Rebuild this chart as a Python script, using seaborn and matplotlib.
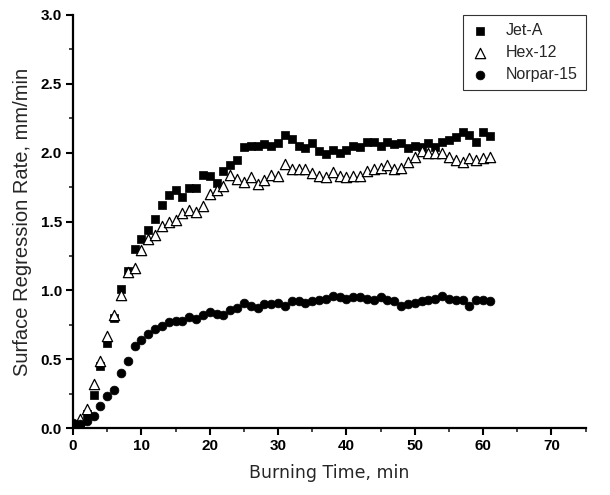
import numpy as np
import pandas as pd
import seaborn as sns
import matplotlib
matplotlib.use('Agg')
import matplotlib.pyplot as plt
from matplotlib.ticker import MultipleLocator

# tempo de queima (min)
tempo = list(range(0, 62))

jet_a = [0.02, 0.03, 0.10, 0.24, 0.45, 0.62, 0.80, 1.01, 1.14, 1.30,
         1.37, 1.44, 1.52, 1.62, 1.69, 1.73, 1.68, 1.74, 1.74, 1.84,
         1.83, 1.78, 1.87, 1.91, 1.95, 2.04, 2.05, 2.05, 2.06, 2.05,
         2.07, 2.13, 2.10, 2.05, 2.03, 2.07, 2.01, 1.99, 2.02, 2.00,
         2.02, 2.05, 2.04, 2.08, 2.08, 2.05, 2.08, 2.06, 2.07, 2.03,
         2.05, 2.04, 2.07, 2.04, 2.08, 2.09, 2.11, 2.15, 2.13, 2.08,
         2.15, 2.12]

hex_12 = [0.02, 0.07, 0.14, 0.32, 0.49, 0.67, 0.82, 0.97, 1.13, 1.16,
          1.29, 1.37, 1.40, 1.47, 1.50, 1.51, 1.56, 1.58, 1.57, 1.61,
          1.70, 1.73, 1.76, 1.84, 1.81, 1.79, 1.82, 1.77, 1.80, 1.84,
          1.83, 1.92, 1.88, 1.88, 1.88, 1.85, 1.83, 1.82, 1.86, 1.83,
          1.82, 1.83, 1.83, 1.87, 1.88, 1.89, 1.91, 1.88, 1.89, 1.93,
          1.97, 2.01, 2.00, 2.00, 2.00, 1.97, 1.95, 1.93, 1.96, 1.95,
          1.96, 1.97]

norpar_15 = [0.04, 0.03, 0.05, 0.09, 0.16, 0.23, 0.28, 0.40, 0.49, 0.60,
             0.64, 0.68, 0.72, 0.74, 0.77, 0.78, 0.78, 0.81, 0.79, 0.82,
             0.84, 0.83, 0.82, 0.86, 0.87, 0.91, 0.89, 0.87, 0.90, 0.90,
             0.91, 0.89, 0.92, 0.92, 0.91, 0.92, 0.93, 0.94, 0.96, 0.95,
             0.94, 0.95, 0.95, 0.94, 0.93, 0.95, 0.93, 0.92, 0.89, 0.90,
             0.91, 0.92, 0.93, 0.94, 0.96, 0.94, 0.93, 0.93, 0.89, 0.93,
             0.93, 0.92]

sns.set_style('ticks')
plt.rcParams['font.family'] = ['Liberation Sans', 'DejaVu Sans']

fig = plt.figure(figsize=(6.1, 4.95), dpi=100)
ax = fig.add_axes([0.1197, 0.135, 0.8403, 0.835])

sns.scatterplot(ax=ax, x=tempo, y=jet_a, marker='s', s=32, color='black',
                edgecolor='black', linewidth=0.5, label='Jet-A')
sns.scatterplot(ax=ax, x=tempo, y=hex_12, marker='^', s=55, facecolor='white',
                edgecolor='black', linewidth=0.9, label='Hex-12')
sns.scatterplot(ax=ax, x=tempo, y=norpar_15, marker='o', s=40, color='black',
                edgecolor='black', linewidth=0.5, label='Norpar-15')

ax.set_xlim(0, 75)
ax.set_ylim(0, 3.0)
ax.xaxis.set_major_locator(MultipleLocator(10))
ax.xaxis.set_minor_locator(MultipleLocator(5))
ax.yaxis.set_minor_locator(MultipleLocator(0.25))
ax.set_yticks(np.arange(0, 3.01, 0.5))
ax.set_yticklabels([f'{v:.1f}' for v in np.arange(0, 3.01, 0.5)])

ax.tick_params(which='major', direction='out', length=5, width=1.5,
               labelsize=11, colors='black', pad=3)
ax.tick_params(which='minor', direction='out', length=3, width=1.2)
for lbl in ax.get_xticklabels() + ax.get_yticklabels():
    lbl.set_fontweight('bold')

sns.despine(ax=ax)
for sp in ['left', 'bottom']:
    ax.spines[sp].set_linewidth(1.6)
    ax.spines[sp].set_color('black')

ax.set_xlabel('Burning Time, min', fontsize=12.5, family='DejaVu Sans', labelpad=8)
ax.set_ylabel('Surface Regression Rate, mm/min', fontsize=14.5, labelpad=6)

leg = ax.legend(loc='upper right', bbox_to_anchor=(1.0, 1.0), fontsize=11.5,
                frameon=True, fancybox=False, edgecolor='black',
                borderaxespad=0, handletextpad=1.0, handlelength=1.2,
                borderpad=0.5, labelspacing=0.45)
leg.get_frame().set_linewidth(0.8)

plt.savefig('out.png', dpi=100)
